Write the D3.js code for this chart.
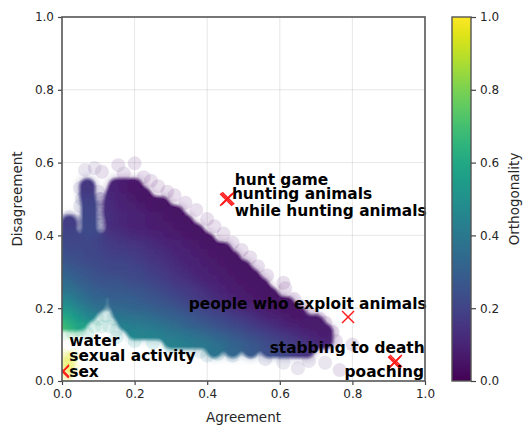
<!DOCTYPE html>
<html><head><meta charset="utf-8">
<script src="https://cdn.jsdelivr.net/npm/d3@7"></script>
<style>html,body{margin:0;background:#fff}svg{display:block}text{font-family:"DejaVu Sans",sans-serif}</style>
</head><body><svg id="c" width="524" height="430"></svg>
<script>
const tickValues = [0, 0.2, 0.4, 0.6, 0.8, 1.0];
const xTitle = "Agreement", yTitle = "Disagreement", cTitle = "Orthogonality";

// dense body of the cloud, row by row
const coreDisagreement = [.085,.11,.135,.16,.185,.21,.235,.26,.285,.31,.335,.36,.385,.41,.435,.46,.485,.51,.535];
const coreAgreement = [
 [.42,.47,.52,.57,.6,.625,.65,.675],
 [.3,.325,.35,.375,.4,.425,.45,.475,.5,.525,.55,.575,.6,.625,.65,.675,.7,.725],
 [.2,.225,.25,.275,.3,.325,.35,.375,.4,.425,.45,.475,.5,.525,.55,.575,.6,.625,.65,.675,.7,.725],
 [0,.025,.05,.175,.2,.225,.25,.275,.3,.325,.35,.375,.4,.425,.45,.475,.5,.525,.55,.575,.6,.625,.65,.675,.7],
 [0,.025,.05,.075,.16,.175,.2,.225,.25,.275,.3,.325,.35,.375,.4,.425,.45,.475,.5,.525,.55,.575,.6,.625,.65],
 [0,.025,.05,.075,.1,.15,.175,.2,.225,.25,.275,.3,.325,.35,.375,.4,.425,.45,.475,.5,.525,.55,.575,.6,.62],
 [0,.025,.05,.075,.1,.15,.175,.2,.225,.25,.275,.3,.325,.35,.375,.4,.425,.45,.475,.5,.525,.55,.575],
 [0,.025,.05,.075,.1,.125,.15,.175,.2,.225,.25,.275,.3,.325,.35,.375,.4,.425,.45,.475,.5,.525,.55],
 [0,.025,.05,.075,.1,.125,.15,.175,.2,.225,.25,.275,.3,.325,.35,.375,.4,.425,.45,.475,.5,.525],
 [0,.025,.05,.075,.1,.125,.15,.175,.2,.225,.25,.275,.3,.325,.35,.375,.4,.425,.45,.475,.5],
 [0,.025,.05,.075,.1,.125,.15,.175,.2,.225,.25,.275,.3,.325,.35,.375,.4,.425,.45,.47],
 [0,.025,.075,.1,.125,.15,.175,.2,.225,.25,.275,.3,.325,.35,.375,.4,.425,.445],
 [.015,.035,.08,.105,.125,.15,.175,.2,.225,.25,.275,.3,.325,.35,.375,.4],
 [.02,.075,.14,.16,.18,.2,.225,.25,.275,.3,.325,.35,.37],
 [.02,.075,.14,.16,.18,.2,.225,.25,.275,.3,.325,.34],
 [.075,.135,.155,.175,.2,.225,.25,.275,.3,.315],
 [.075,.135,.155,.175,.2,.225,.25,.275],
 [.07,.14,.16,.18,.2,.225],
 [.07,.15,.175,.2]
];
const coreOrthogonality = [
 [.38,.33,.28,.24,.22,.2,.17,.15],
 [.44,.43,.42,.41,.4,.37,.35,.32,.3,.27,.25,.23,.21,.19,.17,.15,.13,.11],
 [.46,.45,.44,.43,.41,.4,.38,.36,.34,.32,.3,.27,.25,.23,.21,.19,.17,.15,.13,.11,.09,.08],
 [.7,.65,.58,.43,.42,.41,.4,.38,.36,.34,.32,.3,.28,.26,.24,.22,.2,.18,.16,.14,.12,.1,.09,.08,.07],
 [.62,.58,.52,.46,.38,.38,.37,.36,.35,.33,.31,.3,.28,.26,.24,.22,.2,.18,.16,.14,.12,.1,.09,.07,.06],
 [.52,.5,.45,.4,.36,.33,.33,.32,.31,.3,.28,.27,.25,.23,.21,.19,.17,.15,.13,.11,.1,.08,.07,.06,.05],
 [.45,.43,.39,.35,.32,.3,.3,.29,.28,.26,.25,.23,.21,.19,.17,.15,.13,.11,.1,.08,.07,.06,.05],
 [.39,.37,.34,.31,.29,.28,.27,.27,.26,.25,.24,.22,.2,.18,.17,.15,.13,.11,.09,.08,.07,.06,.05],
 [.35,.33,.3,.28,.26,.25,.25,.24,.23,.22,.2,.19,.17,.15,.14,.12,.1,.09,.08,.07,.06,.05],
 [.31,.29,.27,.26,.24,.23,.22,.22,.21,.2,.18,.17,.15,.13,.12,.1,.09,.08,.07,.06,.05],
 [.28,.26,.24,.23,.22,.21,.2,.2,.19,.18,.16,.15,.13,.12,.1,.09,.08,.07,.06,.05],
 [.25,.23,.21,.21,.19,.18,.18,.17,.16,.14,.13,.12,.1,.09,.08,.07,.06,.05],
 [.22,.21,.21,.2,.18,.17,.16,.15,.14,.13,.11,.1,.09,.08,.07,.05],
 [.2,.22,.15,.14,.13,.12,.11,.1,.09,.08,.07,.06,.05],
 [.18,.22,.13,.12,.11,.1,.09,.08,.07,.07,.06,.05],
 [.21,.14,.12,.11,.1,.09,.08,.07,.06,.05],
 [.2,.13,.11,.1,.09,.08,.06,.05],
 [.19,.12,.1,.09,.07,.05],
 [.16,.1,.08,.06]
];

// faint fringe points round the cloud
const fringeAgreement = [.063,.09,.11,.155,.17,.2,.225,.245,.265,.29,.31,.34,.37,.4,.42,.445,.47,.495,.518,.54,.565,.61,.615,.64,.665,.69,.71,.725,.745,.755,.8,.765,.725,.68,.65,.61,.56,.52,.47,.43,.4,.38,.35,.3,.25,.2,.15,.125,.12,.13,.11,.14,.1,.09,.15,.05,.055,.05,.02,.035,.01,.105,.105,.11,.105,.055,.055,.06,.1,.115,.105,.12,.11,.115,.105,.11,.1,.115,.01,.02,.01,.03,.02,0,.02,.01,.03,.015,.025,.005,.04,.03,.005,.07,.05,.03];
const fringeDisagreement = [.58,.585,.575,.593,.57,.598,.56,.55,.535,.52,.51,.49,.47,.445,.425,.405,.38,.36,.34,.315,.29,.27,.255,.225,.205,.18,.17,.16,.135,.11,.1,.03,.05,.055,.035,.05,.06,.08,.07,.075,.07,.08,.085,.095,.105,.11,.12,.21,.18,.15,.15,.17,.17,.15,.14,.53,.5,.48,.45,.44,.44,.5,.46,.43,.4,.4,.37,.35,.52,.49,.44,.41,.47,.45,.5,.48,.43,.42,.03,.03,.06,.07,.05,.05,.02,.015,.04,.04,.06,.07,.14,.13,.13,.13,.14,.15];
const fringeOrthogonality = [.15,.12,.1,.08,.08,.07,.07,.07,.07,.07,.07,.07,.07,.06,.06,.06,.06,.06,.06,.06,.06,.06,.06,.06,.06,.06,.06,.06,.07,.08,.08,.1,.12,.12,.15,.18,.22,.26,.3,.35,.38,.4,.42,.45,.48,.5,.52,.55,.55,.55,.55,.55,.58,.58,.52,.2,.2,.22,.2,.2,.2,.15,.16,.18,.18,.22,.24,.26,.14,.14,.18,.18,.16,.17,.14,.15,.18,.18,.95,.95,.95,.95,.95,.95,.95,.95,.95,.95,.95,.95,.7,.7,.72,.6,.65,.68];

// highlighted phrases
const markAgreement = [.452,.458,.455,.788,.915,.92,.917,.002,.003];
const markDisagreement = [.498,.502,.5,.176,.05,.055,.052,.025,.028];
const labelText = ["hunt game","hunting animals","while hunting animals","people who exploit animals","stabbing to death","poaching","water","sexual activity","sex"];
const labelAgreement = [.476,.468,.476,.349,.999,.997,.02,.02,.02];
const labelDisagreement = [.538,.5,.454,.197,.077,.012,.097,.054,.011];
const labelAnchor = ["start","start","start","start","end","end","start","start","start"];

const L=62,R=425,T=17,B=381;
const x=d3.scaleLinear().domain([0,1]).range([L,R]);
const y=d3.scaleLinear().domain([0,1]).range([B,T]);
const svg=d3.select("#c");
const defs=svg.append("defs");
defs.append("clipPath").attr("id","pa").append("rect").attr("x",L).attr("y",T).attr("width",R-L).attr("height",B-T);
const goo=defs.append("filter").attr("id","goo").attr("x","-5%").attr("y","-5%").attr("width","110%").attr("height","110%");
goo.append("feGaussianBlur").attr("stdDeviation",3.4);
goo.append("feComponentTransfer").append("feFuncA").attr("type","linear").attr("slope",2).attr("intercept",-.42);
defs.append("filter").attr("id","halo").attr("x","-5%").attr("y","-5%").attr("width","110%").attr("height","110%")
  .append("feGaussianBlur").attr("stdDeviation",3);
defs.append("filter").attr("id","soft").attr("x","-5%").attr("y","-5%").attr("width","110%").attr("height","110%")
  .append("feGaussianBlur").attr("stdDeviation",.7);

// grid
const grid=svg.append("g").attr("stroke","#b0b0b0").attr("stroke-opacity",.3).attr("stroke-width",1);
tickValues.slice(1,-1).forEach(t=>{
  grid.append("line").attr("x1",x(t)).attr("x2",x(t)).attr("y1",T).attr("y2",B);
  grid.append("line").attr("y1",y(t)).attr("y2",y(t)).attr("x1",L).attr("x2",R);
});

const plot=svg.append("g").attr("clip-path","url(#pa)");
const core=coreDisagreement.flatMap((d,i)=>coreAgreement[i].map((a,j)=>({a,d,c:coreOrthogonality[i][j]})));
const fringe=fringeAgreement.map((a,i)=>({a,d:fringeDisagreement[i],c:fringeOrthogonality[i]}));
plot.append("g").attr("filter","url(#soft)").selectAll("circle").data(fringe).join("circle")
  .attr("cx",p=>x(p.a)).attr("cy",p=>y(p.d)).attr("r",7)
  .attr("fill",p=>d3.interpolateViridis(p.c)).attr("fill-opacity",.12);
plot.append("g").attr("filter","url(#halo)").attr("opacity",.3).selectAll("circle").data(core).join("circle")
  .attr("cx",p=>x(p.a)).attr("cy",p=>y(p.d)).attr("r",10)
  .attr("fill",p=>d3.interpolateViridis(p.c));
plot.append("g").attr("filter","url(#goo)").selectAll("circle").data(core).join("circle")
  .attr("cx",p=>x(p.a)).attr("cy",p=>y(p.d)).attr("r",8)
  .attr("fill",p=>d3.interpolateViridis(p.c));

// markers (clipped at the axes) and labels
const mk=plot.append("g").attr("stroke","#ff1a1a").attr("stroke-width",1.4);
const s=6;
markAgreement.forEach((a,i)=>{
  const X=x(a),Y=y(markDisagreement[i]);
  mk.append("line").attr("x1",X-s).attr("x2",X+s).attr("y1",Y-s).attr("y2",Y+s);
  mk.append("line").attr("x1",X-s).attr("x2",X+s).attr("y1",Y+s).attr("y2",Y-s);
});
svg.append("g").selectAll("text").data(labelText).join("text")
  .attr("x",(t,i)=>x(labelAgreement[i])).attr("y",(t,i)=>y(labelDisagreement[i]))
  .attr("text-anchor",(t,i)=>labelAnchor[i]).attr("font-weight","bold").attr("font-size",15.4)
  .attr("fill","#000").text(t=>t);

// axes
function style(g){
  g.selectAll("text").attr("font-size",12).attr("fill","#262626");
  g.selectAll("line").attr("stroke","#444").attr("stroke-width",1.2);
  g.select(".domain").remove();
}
const f=d3.format(".1f");
svg.append("g").attr("transform",`translate(0,${B})`).call(d3.axisBottom(x).tickValues(tickValues).tickFormat(f).tickSize(4).tickPadding(4)).call(style);
svg.append("g").attr("transform",`translate(${L},0)`).call(d3.axisLeft(y).tickValues(tickValues).tickFormat(f).tickSize(4).tickPadding(4)).call(style);
svg.append("rect").attr("x",L).attr("y",T).attr("width",R-L).attr("height",B-T).attr("fill","none").attr("stroke","#555").attr("stroke-width",1.6);
svg.append("text").attr("x",(L+R)/2).attr("y",422).attr("text-anchor","middle").attr("font-size",13.5).attr("fill","#262626").text(xTitle);
svg.append("text").attr("transform",`translate(22,${(T+B)/2}) rotate(-90)`).attr("text-anchor","middle").attr("font-size",13.5).attr("fill","#262626").text(yTitle);

// colour bar
const cb=d3.scaleLinear().domain([0,1]).range([B,T]);
const grad=defs.append("linearGradient").attr("id","vir").attr("x1",0).attr("x2",0).attr("y1",1).attr("y2",0);
d3.range(0,1.001,.05).forEach(t=>grad.append("stop").attr("offset",t).attr("stop-color",d3.interpolateViridis(t)));
svg.append("rect").attr("x",452).attr("y",T).attr("width",19).attr("height",B-T).attr("fill","url(#vir)").attr("stroke","#555").attr("stroke-width",1.4);
svg.append("g").attr("transform","translate(471,0)").call(d3.axisRight(cb).tickValues(tickValues).tickFormat(f).tickSize(5).tickPadding(4)).call(style);
svg.append("text").attr("transform",`translate(519,${(T+B)/2}) rotate(-90)`).attr("text-anchor","middle").attr("font-size",13.5).attr("fill","#262626").text(cTitle);
</script></body></html>
